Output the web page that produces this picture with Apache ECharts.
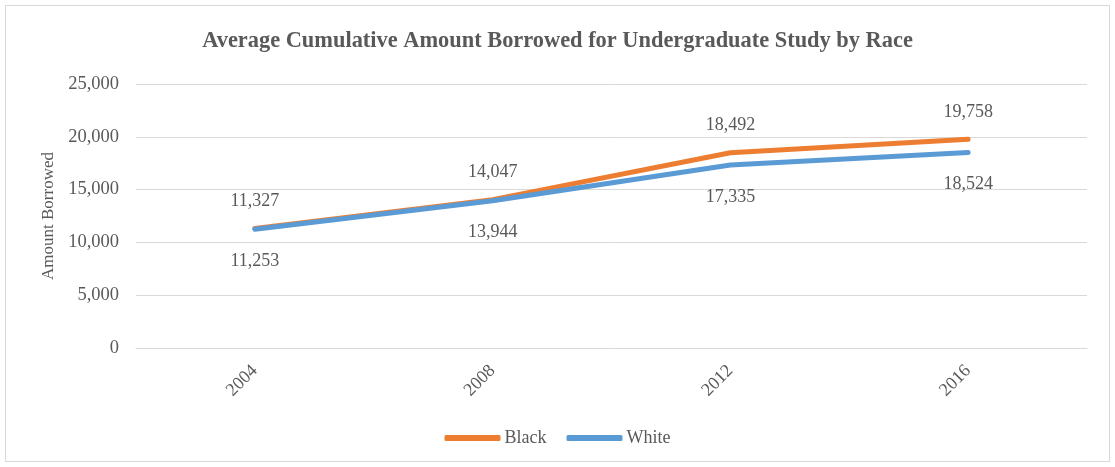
<!DOCTYPE html>
<html>
<head>
<meta charset="utf-8">
<script src="https://cdn.jsdelivr.net/npm/echarts@6/dist/echarts.min.js"></script>
<style>
html,body{margin:0;padding:0;background:#fff;}
#frame{position:absolute;left:5px;top:5px;width:1103px;height:455px;border:1px solid #d9d9d9;}
#chart{position:absolute;left:0;top:0;width:1115px;height:467px;}
</style>
</head>
<body>
<div id="frame"></div>
<div id="chart"></div>
<script>
var titleText = 'Average Cumulative Amount Borrowed for Undergraduate Study by Race';
var categories = ['2004', '2008', '2012', '2016'];
var blackValues = [11327, 14047, 18492, 19758];
var whiteValues = [11253, 13944, 17335, 18524];
var yTicks = [0, 5000, 10000, 15000, 20000, 25000];

var font = 'Liberation Serif';
var textColor = '#595959';
var chart = echarts.init(document.getElementById('chart'));
function fmt(v){ return v.toLocaleString('en-US'); }
function seriesDef(name, data, color, pos, dist, z){
  return {
    name: name, type: 'line', data: data,
    symbol: 'circle', symbolSize: 0.01, showSymbol: true,
    lineStyle: {color: color, width: 5, cap: 'round', join: 'round'},
    itemStyle: {color: color},
    label: {show: true, position: pos, distance: dist, fontFamily: font, fontSize: 18, color: textColor,
            formatter: function(p){ return fmt(p.value); }},
    emphasis: {disabled: true},
    z: z
  };
}
chart.setOption({
  animation: false,
  title: {
    text: titleText, left: 'center', top: 25,
    textStyle: {fontFamily: font, fontSize: 22.4, fontWeight: 'bold', color: textColor}
  },
  legend: {
    bottom: 15, left: 'center', itemWidth: 56, itemHeight: 6, itemGap: 20,
    icon: 'roundRect',
    textStyle: {fontFamily: font, fontSize: 18, color: textColor, padding: [0,0,0,-1]},
    data: ['Black', 'White']
  },
  grid: {left: 136, right: 28, top: 84, bottom: 119},
  xAxis: {
    type: 'category', data: categories, boundaryGap: true,
    axisLine: {show: true, lineStyle: {color: '#d9d9d9', width: 1}},
    axisTick: {show: false},
    axisLabel: {rotate: 45, fontFamily: font, fontSize: 18, color: textColor, margin: 20}
  },
  yAxis: {
    type: 'value', min: yTicks[0], max: yTicks[yTicks.length-1], interval: 5000,
    name: 'Amount Borrowed', nameLocation: 'middle', nameGap: 75, nameRotate: 90,
    nameTextStyle: {fontFamily: font, fontSize: 17, color: textColor},
    axisLine: {show: false}, axisTick: {show: false},
    axisLabel: {fontFamily: font, fontSize: 18.5, color: textColor, margin: 17, formatter: fmt},
    splitLine: {lineStyle: {color: '#d9d9d9', width: 1}}
  },
  series: [
    seriesDef('Black', blackValues, '#ED7D31', 'top', 18, 2),
    seriesDef('White', whiteValues, '#5B9BD5', 'bottom', 23, 3)
  ]
});
</script>
</body>
</html>
